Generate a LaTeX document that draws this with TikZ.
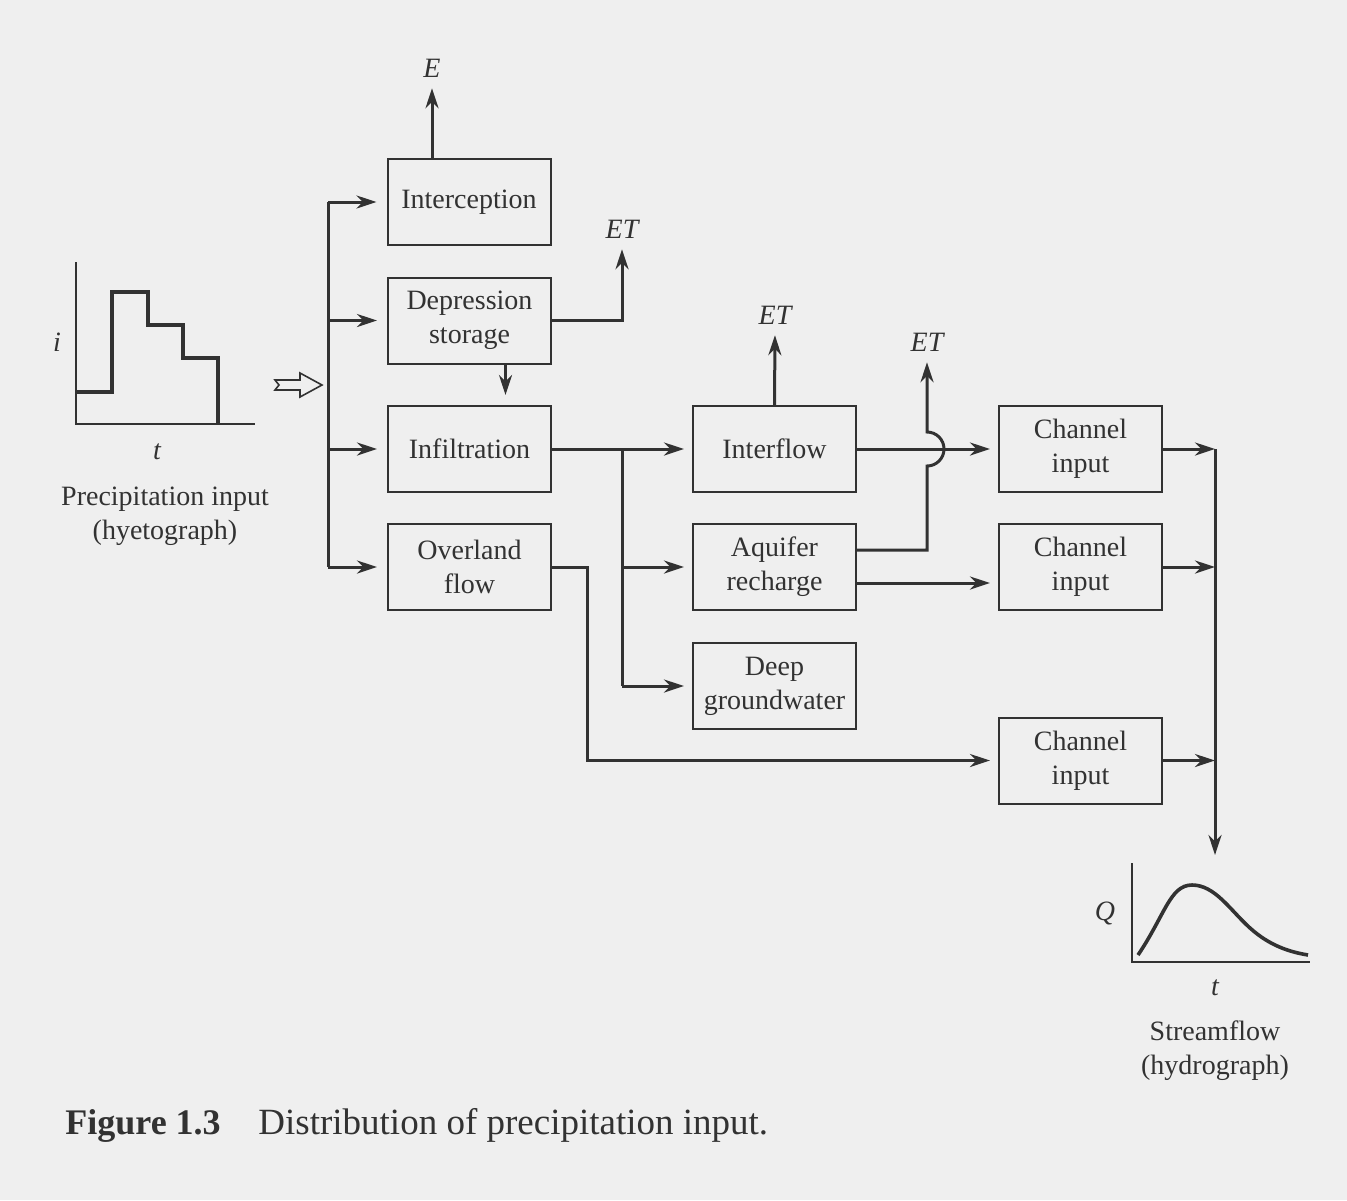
\documentclass[tikz,border=0pt]{standalone}
\usepackage{fontspec}
\setmainfont{Liberation Serif}
\usepackage{xcolor}
\usetikzlibrary{arrows.meta,calc}
\definecolor{ink}{RGB}{50,50,50}
\definecolor{paper}{RGB}{239,239,239}

\begin{document}
\begin{tikzpicture}[x=0.5pt,y=-0.5pt,
  box/.style={draw=ink, line width=1pt, minimum width=81.5pt, minimum height=43pt, inner sep=0pt, align=center, text=ink, font=\fontsize{14}{17}\selectfont},
  lbl/.style={text=ink, font=\fontsize{14}{17}\selectfont\itshape},
  txt/.style={text=ink, align=center, font=\fontsize{14}{17}\selectfont},
  flow/.style={draw=ink, line width=1.5pt},
  ptr/.style={flow, -{Stealth[length=10pt,width=6.5pt]}, shorten >=2pt}
]
\fill[paper] (0,0) rectangle (1347,1200);
\useasboundingbox (0,0) rectangle (1347,1200);

\node[box] (icp) at (469,202) {Interception};
\node[box] (dep) at (469.5,320.5) {Depression\\storage};
\node[box] (inf) at (469.5,449) {Infiltration};
\node[box] (ovl) at (469.5,567) {Overland\\flow};
\node[box] (ifl) at (774.5,449) {Interflow};
\node[box] (aqr) at (774.5,567) {Aquifer\\recharge};
\node[box] (dgw) at (774.5,686) {Deep\\groundwater};
\node[box] (ch1) at (1080.5,449) {Channel\\input};
\node[box] (ch2) at (1080.5,567) {Channel\\input};
\node[box] (ch3) at (1080.5,760.5) {Channel\\input};

\node[lbl] (e) at (432,68) {E};
\node[lbl] (et1) at (622,229) {ET};
\node[lbl] (et2) at (775,315) {ET};
\node[lbl] (et3) at (927,342) {ET};

\coordinate (bar) at (328,202);
\coordinate (j1) at (622,449);
\coordinate (j2) at (587,567);
\coordinate (hop) at (927,449);
\coordinate (col) at (1215,449);
\coordinate (colend) at (1215,855);

\draw[flow] (bar) -- (bar |- ovl.west);
\foreach \n in {icp,dep,inf,ovl}
  \draw[ptr, shorten >=5pt] (bar |- \n.west) -- (\n.west);
\draw[ink, line width=0.8pt, fill=paper] (275,380) -- (300,380) -- (300,373) -- (322,385)
  -- (300,397) -- (300,390) -- (275,390) -- (279,385) -- cycle;

\draw[ptr] (e |- icp.north) -- (e.south);
\draw[ptr] (dep.east) -| (et1.south);
\draw[ptr, shorten >=5pt] ($(dep.south)+(36,0)$) -- ($(inf.north)+(36,0)$);

\draw[ptr, shorten >=4pt] (inf.east) -- (ifl.west);
\draw[flow] (j1) -- (j1 |- dgw.west);
\draw[ptr, shorten >=4pt] (j1 |- aqr.west) -- (aqr.west);
\draw[ptr, shorten >=4pt] (j1 |- dgw.west) -- (dgw.west);

\draw[ptr] (ifl.north) -- (et2.south);
\draw[ptr, shorten >=4pt] (ifl.east) -- (ch1.west);
\draw[ptr] ($(aqr.east)+(0,-17)$) -| ($(hop)+(0,17)$)
  arc[start angle=90, end angle=-90, radius=17] -- (et3.south);
\draw[ptr, shorten >=4pt] ($(aqr.east)+(0,16)$) -- ($(ch2.west)+(0,16)$);
\draw[ptr, shorten >=4pt] (ovl.east) -- (j2) |- (ch3.west);

\foreach \n in {ch1,ch2,ch3}
  \draw[ptr, shorten >=0pt] (\n.east) -- (col |- \n.east);
\draw[ptr, shorten >=0pt] (col) -- (colend);

\draw[ink, line width=0.8pt] (76,262) -- (76,424) -- (255,424);
\draw[ink, line width=2pt] (76,392) -- (112,392) -- (112,292) -- (148,292) -- (148,325)
  -- (183,325) -- (183,358) -- (218,358) -- (218,424);
\node[lbl] (hi) at (57,342) {i};
\node[lbl] (ht) at (157,452) {t};
\node[txt] (hyeto) at (165,516) {Precipitation input\\(hyetograph)};

\draw[ink, line width=0.8pt] (1132,863) -- (1132,962) -- (1310,962);
\draw[ink, line width=1.8pt] (1138,955) .. controls (1165,915) and (1170,885) .. (1192,885)
  .. controls (1215,885) and (1230,910) .. (1250,928)
  .. controls (1270,946) and (1290,952) .. (1308,955);
\node[lbl] (hq) at (1105,913) {Q};
\node[lbl] (hs) at (1215,988) {t};
\node[txt] (hydro) at (1215,1051) {Streamflow\\(hydrograph)};

\node[anchor=base west, inner sep=0pt, text=ink, font=\fontsize{18}{21}\selectfont\bfseries] (capnum) at (65,1134) {Figure 1.3};
\node[anchor=base west, inner sep=0pt, text=ink, font=\fontsize{18.5}{21}\selectfont] (captxt) at (258,1134) {Distribution of precipitation input.};
\end{tikzpicture}
\end{document}
